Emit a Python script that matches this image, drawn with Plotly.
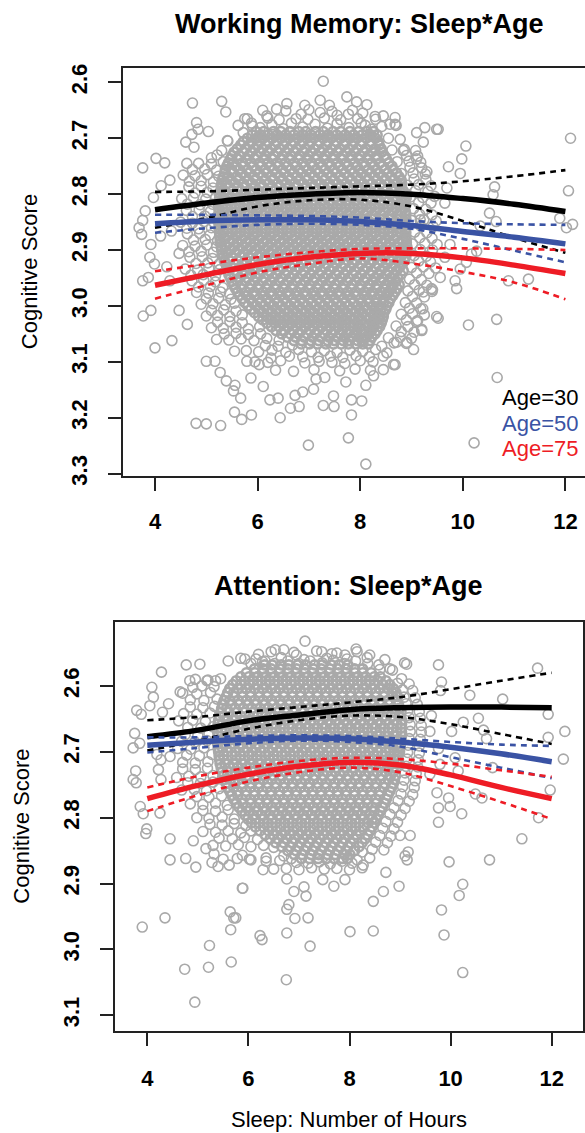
import plotly.graph_objects as go

W, H = 585, 1133
GREY = "#A9A9A9"
BLACK = "#000000"
BLUE = "#3A53A4"
RED = "#EE1C25"
FONT = "Liberation Sans"

# ---------------- model curves (sleep hours grid) ----------------
sleep_grid = [4, 5, 6, 7, 8, 9, 10, 11, 12]

wm_age30 = [2.828, 2.816, 2.806, 2.800, 2.797, 2.800, 2.808, 2.818, 2.831]
wm_age30_hi = [2.796, 2.795, 2.792, 2.789, 2.786, 2.783, 2.777, 2.768, 2.757]
wm_age30_lo = [2.860, 2.843, 2.822, 2.811, 2.810, 2.822, 2.848, 2.878, 2.905]
wm_age50 = [2.853, 2.848, 2.846, 2.846, 2.849, 2.856, 2.867, 2.877, 2.889]
wm_age50_hi = [2.837, 2.837, 2.838, 2.839, 2.842, 2.848, 2.852, 2.854, 2.855]
wm_age50_lo = [2.869, 2.861, 2.855, 2.853, 2.855, 2.862, 2.880, 2.901, 2.922]
wm_age75 = [2.963, 2.944, 2.926, 2.913, 2.906, 2.906, 2.914, 2.927, 2.942]
wm_age75_hi = [2.938, 2.925, 2.913, 2.904, 2.898, 2.897, 2.897, 2.898, 2.900]
wm_age75_lo = [2.987, 2.963, 2.940, 2.925, 2.915, 2.924, 2.939, 2.958, 2.988]

att_age30 = [2.677, 2.667, 2.653, 2.644, 2.636, 2.633, 2.632, 2.632, 2.633]
att_age30_hi = [2.652, 2.647, 2.639, 2.632, 2.625, 2.617, 2.605, 2.592, 2.580]
att_age30_lo = [2.698, 2.683, 2.665, 2.652, 2.645, 2.647, 2.658, 2.673, 2.688]
att_age50 = [2.690, 2.685, 2.681, 2.679, 2.680, 2.685, 2.693, 2.703, 2.715]
att_age50_hi = [2.678, 2.678, 2.676, 2.675, 2.676, 2.680, 2.685, 2.689, 2.691]
att_age50_lo = [2.701, 2.694, 2.687, 2.683, 2.685, 2.692, 2.708, 2.724, 2.740]
att_age75 = [2.771, 2.751, 2.734, 2.722, 2.716, 2.720, 2.735, 2.754, 2.771]
att_age75_hi = [2.754, 2.737, 2.724, 2.714, 2.709, 2.711, 2.718, 2.728, 2.738]
att_age75_lo = [2.790, 2.766, 2.745, 2.731, 2.724, 2.731, 2.752, 2.776, 2.802]

# ---------------- raw observations (estimated from picture) ----------------
# dense core: (score, [sleep hours * 100, ...])
wm_core_rows = [
    (2.688, [597, 612, 631, 645, 663, 680, 694, 713, 728, 747, 762, 780, 797, 813, 826]),
    (2.694, [589, 606, 621, 638, 655, 671, 688, 704, 721, 737, 754, 771, 787, 804, 820, 833]),
    (2.700, [580, 598, 611, 629, 646, 661, 679, 696, 710, 729, 744, 762, 780, 794, 812, 830]),
    (2.706, [572, 589, 604, 621, 637, 654, 670, 688, 703, 720, 736, 753, 771, 787, 803, 820, 835]),
    (2.712, [567, 583, 601, 616, 634, 651, 666, 684, 701, 717, 735, 750, 769, 785, 801, 820, 837]),
    (2.719, [560, 576, 594, 609, 626, 643, 660, 676, 693, 711, 727, 744, 760, 778, 794, 811, 829, 841]),
    (2.725, [554, 572, 587, 605, 620, 639, 655, 671, 690, 704, 723, 738, 756, 773, 789, 807, 823, 842]),
    (2.731, [550, 564, 583, 598, 615, 632, 649, 665, 682, 699, 716, 732, 749, 766, 782, 800, 816, 833, 847]),
    (2.737, [547, 561, 580, 595, 614, 629, 647, 663, 681, 697, 715, 730, 749, 764, 783, 798, 816, 832, 851]),
    (2.744, [543, 553, 570, 587, 604, 620, 638, 654, 672, 688, 705, 721, 739, 755, 772, 789, 806, 822, 839, 856]),
    (2.750, [540, 558, 572, 591, 606, 625, 640, 658, 674, 692, 707, 726, 741, 760, 775, 794, 808, 827, 843, 862]),
    (2.756, [537, 549, 564, 580, 597, 614, 631, 648, 664, 681, 697, 714, 731, 748, 765, 781, 798, 815, 831, 848, 864]),
    (2.762, [536, 550, 569, 584, 603, 618, 636, 652, 670, 685, 704, 719, 737, 753, 770, 787, 802, 821, 836, 854, 871]),
    (2.769, [533, 543, 560, 576, 593, 610, 627, 644, 660, 677, 694, 710, 727, 744, 761, 777, 794, 811, 828, 844, 860, 876]),
    (2.775, [531, 548, 563, 582, 596, 615, 630, 649, 663, 682, 697, 715, 731, 749, 764, 783, 798, 816, 832, 850, 865, 880]),
    (2.781, [530, 540, 556, 572, 589, 606, 622, 639, 656, 673, 689, 706, 723, 740, 756, 772, 790, 806, 823, 839, 856, 871, 881]),
    (2.787, [529, 544, 562, 576, 595, 610, 628, 643, 662, 677, 695, 710, 729, 744, 762, 777, 796, 811, 829, 845, 862, 878]),
    (2.794, [528, 535, 552, 568, 585, 601, 618, 635, 652, 668, 685, 701, 718, 735, 752, 768, 785, 801, 819, 835, 851, 868, 884]),
    (2.800, [527, 543, 558, 577, 591, 610, 625, 643, 658, 676, 691, 710, 724, 743, 758, 776, 791, 810, 825, 843, 858, 876, 889]),
    (2.806, [526, 533, 550, 566, 583, 600, 616, 633, 650, 666, 683, 699, 716, 732, 749, 766, 782, 798, 815, 831, 848, 864, 880, 890]),
    (2.812, [525, 541, 559, 574, 592, 607, 625, 641, 658, 673, 691, 706, 724, 740, 757, 772, 790, 806, 823, 839, 856, 871, 887]),
    (2.819, [524, 532, 548, 565, 581, 598, 614, 631, 647, 664, 680, 697, 713, 730, 746, 763, 779, 796, 812, 829, 845, 862, 878, 889]),
    (2.825, [524, 539, 557, 572, 590, 605, 623, 638, 656, 672, 689, 704, 722, 737, 755, 771, 788, 803, 821, 836, 854, 870, 886]),
    (2.831, [525, 532, 549, 566, 582, 599, 615, 632, 648, 665, 681, 698, 714, 731, 747, 764, 780, 797, 813, 830, 846, 863, 879, 888]),
    (2.837, [526, 542, 559, 575, 592, 608, 626, 641, 659, 674, 692, 707, 725, 741, 758, 774, 791, 807, 824, 840, 857, 873, 889]),
    (2.844, [524, 533, 548, 565, 581, 597, 614, 630, 647, 663, 680, 696, 713, 729, 746, 762, 779, 795, 812, 828, 845, 861, 878, 889]),
    (2.850, [524, 540, 556, 573, 589, 606, 621, 639, 654, 672, 687, 705, 720, 738, 753, 771, 787, 804, 819, 837, 852, 870, 886]),
    (2.856, [525, 533, 550, 567, 583, 600, 616, 633, 649, 666, 682, 699, 715, 732, 748, 765, 781, 798, 814, 831, 847, 864, 880, 888]),
    (2.862, [525, 542, 558, 576, 591, 609, 624, 642, 657, 675, 690, 708, 723, 741, 756, 774, 789, 807, 822, 840, 855, 873, 889]),
    (2.869, [526, 534, 550, 567, 583, 599, 616, 632, 649, 665, 682, 698, 715, 731, 748, 764, 781, 797, 814, 830, 847, 863, 880, 889]),
    (2.875, [526, 541, 559, 574, 592, 607, 625, 640, 658, 673, 691, 706, 724, 739, 757, 772, 790, 805, 823, 838, 856, 871, 888]),
    (2.881, [527, 536, 552, 569, 585, 602, 618, 635, 651, 668, 684, 701, 717, 734, 750, 767, 783, 800, 816, 833, 849, 866, 882, 890]),
    (2.887, [528, 545, 560, 578, 593, 611, 626, 644, 659, 677, 692, 710, 725, 743, 758, 776, 791, 809, 824, 842, 857, 875, 890]),
    (2.894, [529, 538, 554, 571, 587, 604, 620, 637, 653, 670, 686, 703, 719, 736, 752, 769, 785, 802, 818, 835, 851, 868, 884, 891]),
    (2.900, [530, 547, 562, 580, 595, 613, 628, 646, 661, 679, 694, 712, 727, 745, 760, 778, 793, 811, 826, 844, 859, 877, 890]),
    (2.906, [531, 540, 556, 573, 589, 606, 622, 639, 655, 672, 688, 705, 721, 738, 754, 771, 787, 804, 820, 837, 853, 870, 885]),
    (2.912, [533, 549, 567, 582, 600, 615, 633, 648, 666, 681, 699, 714, 732, 747, 765, 780, 798, 813, 831, 846, 864, 879, 889]),
    (2.919, [535, 545, 561, 578, 594, 611, 627, 644, 660, 677, 693, 710, 726, 743, 759, 776, 792, 809, 825, 842, 858, 874, 886]),
    (2.925, [538, 555, 570, 588, 603, 621, 636, 654, 669, 687, 702, 720, 735, 753, 768, 786, 801, 819, 834, 852, 866, 882]),
    (2.931, [540, 550, 566, 583, 599, 616, 632, 649, 665, 682, 698, 715, 731, 748, 764, 781, 797, 814, 830, 847, 862, 877]),
    (2.937, [542, 558, 576, 591, 609, 624, 642, 657, 675, 690, 708, 723, 741, 756, 774, 789, 807, 822, 840, 854, 871, 884]),
    (2.944, [544, 555, 571, 588, 604, 621, 637, 654, 670, 687, 703, 720, 736, 753, 769, 786, 802, 819, 835, 851, 866, 879]),
    (2.950, [547, 564, 579, 597, 612, 630, 645, 663, 678, 696, 711, 729, 744, 762, 777, 795, 810, 828, 842, 859, 873]),
    (2.956, [550, 561, 577, 594, 610, 627, 643, 660, 676, 693, 709, 726, 742, 759, 775, 792, 808, 825, 841, 856, 870]),
    (2.962, [553, 569, 587, 602, 620, 635, 653, 668, 686, 701, 719, 734, 752, 767, 785, 800, 818, 832, 850, 863, 876]),
    (2.969, [557, 569, 585, 602, 618, 635, 651, 668, 684, 701, 717, 734, 750, 767, 783, 800, 816, 832, 847, 861, 872]),
    (2.975, [561, 578, 593, 611, 626, 644, 659, 677, 692, 710, 725, 743, 758, 776, 791, 809, 823, 841, 854, 868]),
    (2.981, [565, 578, 594, 611, 627, 644, 660, 677, 693, 710, 726, 743, 759, 776, 792, 808, 823, 838, 852, 864]),
    (2.987, [570, 585, 603, 618, 636, 651, 669, 684, 702, 717, 735, 750, 768, 783, 801, 815, 832, 845, 859]),
    (2.994, [575, 590, 606, 623, 639, 656, 672, 689, 705, 722, 738, 755, 771, 787, 802, 817, 831, 845, 856]),
    (3.000, [581, 598, 613, 631, 646, 664, 679, 697, 712, 730, 745, 763, 777, 795, 808, 825, 838, 852]),
    (3.006, [587, 603, 620, 636, 653, 669, 686, 702, 719, 735, 752, 767, 783, 798, 813, 827, 840, 850]),
    (3.012, [594, 610, 628, 643, 661, 676, 694, 709, 727, 742, 760, 774, 791, 804, 821, 833, 846]),
    (3.019, [602, 618, 635, 651, 668, 684, 701, 717, 734, 750, 766, 781, 797, 811, 826, 838, 845]),
    (3.025, [610, 627, 642, 660, 675, 693, 708, 726, 741, 759, 772, 789, 802, 818, 830, 843]),
    (3.031, [618, 634, 651, 667, 684, 700, 717, 733, 750, 765, 780, 795, 809, 823, 835, 841]),
    (3.037, [627, 642, 660, 675, 693, 708, 726, 741, 758, 771, 788, 800, 816, 827, 838]),
    (3.044, [636, 652, 669, 685, 702, 718, 735, 750, 765, 780, 794, 808, 822, 833]),
    (3.050, [647, 664, 679, 697, 712, 730, 744, 761, 774, 790, 802, 817, 829]),
    (3.056, [658, 674, 691, 707, 723, 739, 755, 769, 783, 797, 810, 823]),
    (3.062, [671, 686, 704, 719, 737, 750, 767, 779, 795, 806, 819]),
    (3.068, [685, 701, 717, 733, 748, 763, 777, 791, 805, 816]),
]

wm_points = [
    # halo left
    (4.62, 2.745), (4.85, 2.745), (5.10, 2.746), (5.33, 2.742), (4.55, 2.766), (4.78, 2.767), (5.02, 2.765), (5.24, 2.768),
    (4.66, 2.787), (4.90, 2.786), (5.13, 2.789), (4.52, 2.808), (4.75, 2.806), (4.99, 2.809), (5.18, 2.807),
    (4.61, 2.829), (4.86, 2.828), (5.08, 2.831), (4.50, 2.850), (4.73, 2.852), (4.96, 2.849), (5.15, 2.851),
    (4.63, 2.871), (4.87, 2.870), (5.07, 2.873), (4.54, 2.892), (4.78, 2.893), (5.01, 2.891), (5.20, 2.894),
    (4.68, 2.913), (4.92, 2.912), (5.12, 2.915), (4.59, 2.934), (4.83, 2.936), (5.05, 2.933), (5.26, 2.935),
    (4.72, 2.955), (4.95, 2.954), (5.18, 2.957), (4.81, 2.976), (5.04, 2.977), (5.28, 2.975), (5.45, 2.978),
    (4.90, 2.997), (5.13, 2.996), (5.37, 2.998), (5.55, 2.995), (5.00, 3.018), (5.22, 3.017), (5.46, 3.019), (5.70, 3.016),
    (5.10, 3.039), (5.33, 3.040), (5.58, 3.038), (5.82, 3.041), (6.04, 3.037), (5.20, 3.060), (5.44, 3.061), (5.68, 3.059),
    (5.93, 3.062), (6.18, 3.058), (6.42, 3.061), (5.55, 3.081), (5.78, 3.080), (6.02, 3.082), (6.28, 3.079), (6.55, 3.083),
    (6.80, 3.078), (7.05, 3.082), (7.30, 3.080), (7.55, 3.083), (7.80, 3.079), (8.05, 3.081), (8.30, 3.078),
    (5.95, 3.100), (6.20, 3.101), (6.45, 3.098), (6.92, 3.102), (7.20, 3.099), (7.45, 3.101), (7.70, 3.103), (8.00, 3.098),
    (8.25, 3.100), (6.35, 3.115), (6.70, 3.117), (7.10, 3.114), (7.60, 3.116), (7.90, 3.113), (8.20, 3.115),
    (4.73, 2.756), (4.97, 2.755), (5.20, 2.757), (4.67, 2.777), (4.90, 2.776), (5.14, 2.778), (4.78, 2.798), (5.02, 2.797),
    (5.25, 2.799), (4.63, 2.818), (4.88, 2.819), (5.12, 2.818), (4.73, 2.840), (4.97, 2.839), (5.20, 2.841), (4.62, 2.861),
    (4.85, 2.862), (5.10, 2.860), (4.75, 2.882), (4.98, 2.881), (5.22, 2.883), (4.66, 2.903), (4.90, 2.902), (5.14, 2.904),
    (4.80, 2.924), (5.03, 2.923), (5.25, 2.925), (4.70, 2.945), (4.94, 2.944), (5.18, 2.946), (4.85, 2.966), (5.08, 2.965),
    (5.32, 2.967), (5.00, 2.987), (5.24, 2.986), (5.48, 2.988), (5.10, 3.008), (5.34, 3.007), (5.58, 3.009), (5.22, 3.029),
    (5.46, 3.028), (5.70, 3.030), (5.35, 3.050), (5.58, 3.049), (5.82, 3.051), (6.06, 3.050),
    # halo right
    (8.55, 2.700), (8.78, 2.702), (8.62, 2.721), (8.86, 2.720), (9.08, 2.722), (8.72, 2.742), (8.95, 2.741), (9.18, 2.743),
    (8.80, 2.763), (9.03, 2.762), (9.27, 2.764), (8.92, 2.784), (9.14, 2.783), (9.38, 2.785), (8.98, 2.805), (9.22, 2.806),
    (9.45, 2.804), (9.04, 2.826), (9.28, 2.827), (9.00, 2.847), (9.24, 2.846), (9.48, 2.848), (9.06, 2.868), (9.30, 2.869),
    (9.02, 2.889), (9.26, 2.888), (9.50, 2.890), (9.05, 2.910), (9.29, 2.911), (9.00, 2.931), (9.23, 2.930), (9.47, 2.932),
    (8.96, 2.952), (9.19, 2.953), (8.93, 2.973), (9.15, 2.972), (9.40, 2.974), (8.88, 2.994), (9.10, 2.995), (8.80, 3.015),
    (9.02, 3.014), (9.25, 3.016), (8.70, 3.036), (8.93, 3.037), (8.55, 3.057), (8.78, 3.056), (9.00, 3.058),
    (8.90, 2.731), (9.12, 2.732), (8.97, 2.752), (9.20, 2.753), (9.05, 2.773), (9.28, 2.774), (9.08, 2.794), (9.32, 2.795),
    (9.14, 2.815), (9.38, 2.816), (9.16, 2.836), (9.40, 2.837), (9.18, 2.857), (9.42, 2.858), (9.16, 2.878), (9.40, 2.879),
    (9.17, 2.899), (9.41, 2.900), (9.14, 2.920), (9.37, 2.921), (9.10, 2.941), (9.34, 2.942), (9.06, 2.962), (9.30, 2.963),
    (9.02, 2.983), (9.25, 2.984), (8.96, 3.004), (9.18, 3.005), (8.90, 3.025), (9.12, 3.026), (8.80, 3.046), (9.05, 3.047),
    (8.66, 3.066), (8.90, 3.067),
    # halo top / bottom edges
    (6.10, 2.650), (6.55, 2.651), (7.00, 2.649), (7.45, 2.652), (7.85, 2.650), (5.80, 2.665), (6.20, 2.664), (6.42, 2.667),
    (6.75, 2.665), (6.98, 2.666), (7.30, 2.664), (7.62, 2.667), (7.95, 2.665), (8.30, 2.666), (5.62, 2.677), (5.90, 2.678),
    (8.10, 2.677), (8.42, 2.679), (8.70, 2.677), (5.30, 2.722), (5.10, 2.735), (5.42, 2.705),
    (6.05, 2.681), (6.28, 2.676), (6.50, 2.683), (6.66, 2.673), (6.88, 2.680), (7.12, 2.675), (7.36, 2.682), (7.55, 2.674),
    (7.78, 2.681), (8.02, 2.673), (8.22, 2.684), (6.18, 2.660), (6.85, 2.657), (7.55, 2.659), (8.05, 2.655),
    (6.15, 3.071), (6.40, 3.072), (6.62, 3.090), (6.68, 3.070), (6.88, 3.091), (7.18, 3.092), (7.42, 3.090), (7.66, 3.092),
    (7.92, 3.089), (8.18, 3.091), (8.42, 3.072), (8.45, 3.090),
    # outliers
    (7.28, 2.598), (7.74, 2.626), (7.93, 2.635), (8.13, 2.640), (7.22, 2.632), (7.40, 2.641), (6.92, 2.641), (6.57, 2.638),
    (6.37, 2.648), (5.75, 2.665), (5.88, 2.673), (7.22, 2.654), (7.77, 2.657), (8.29, 2.661), (8.68, 2.663), (8.58, 2.675),
    (9.26, 2.681), (9.10, 2.690), (9.49, 2.684), (9.23, 2.707), (8.84, 2.722), (9.10, 2.737), (9.30, 2.760),
    (4.73, 2.637), (5.30, 2.634), (5.38, 2.653), (5.72, 2.690), (4.81, 2.672), (4.84, 2.684), (5.04, 2.688), (4.72, 2.693),
    (4.60, 2.707), (4.76, 2.716), (5.41, 2.704), (5.21, 2.730), (4.02, 2.736), (4.19, 2.744), (3.76, 2.753),
    (4.29, 2.775), (4.12, 2.785), (3.97, 2.806), (3.81, 2.830), (3.76, 2.847), (3.69, 2.860), (3.74, 2.872), (3.92, 2.890),
    (4.11, 2.875), (4.32, 2.866), (4.47, 2.906), (3.90, 2.913), (3.99, 2.925), (4.23, 2.930), (3.76, 2.955), (3.87, 2.949),
    (4.29, 2.955), (3.77, 3.018), (3.92, 3.008), (4.47, 3.008), (4.63, 3.033), (4.00, 3.075), (4.33, 3.062),
    (5.00, 3.099), (5.17, 3.099), (5.27, 3.119), (5.39, 3.134), (5.56, 3.142), (5.53, 3.152), (5.67, 3.165), (5.87, 3.129),
    (6.11, 3.144), (6.24, 3.168), (6.40, 3.165), (6.73, 3.160), (6.64, 3.183), (5.79, 3.099), (6.03, 3.105), (6.26, 3.093),
    (4.80, 3.210), (5.00, 3.211), (5.28, 3.214), (5.55, 3.190), (5.69, 3.203), (5.88, 3.195), (6.44, 3.200),
    (6.99, 3.249), (7.77, 3.236), (8.11, 3.283), (6.81, 3.180), (6.88, 3.154), (7.09, 3.149), (7.28, 3.178), (7.49, 3.180),
    (7.48, 3.161), (7.83, 3.195), (7.83, 3.168), (8.03, 3.170), (7.72, 3.136), (8.11, 3.142), (7.31, 3.128), (7.14, 3.131),
    (8.26, 3.125), (8.45, 3.114), (8.65, 3.105), (8.52, 3.084), (8.71, 3.065), (8.91, 3.065), (9.20, 3.042), (9.49, 3.019),
    (9.22, 3.005), (9.41, 2.971), (9.10, 3.028),
    (12.10, 2.700), (12.06, 2.794), (11.89, 2.843), (12.14, 2.854), (12.02, 2.860), (11.28, 2.952), (10.89, 2.955),
    (9.52, 2.684), (10.06, 2.714), (9.98, 2.737), (9.95, 2.763), (9.72, 2.751), (10.62, 2.787), (10.59, 2.801),
    (10.52, 2.834), (10.65, 2.849), (10.27, 2.902), (10.07, 2.922), (9.95, 2.934), (9.88, 2.969), (9.75, 2.890),
    (9.56, 2.949), (9.39, 2.969), (9.17, 2.846), (9.69, 2.789), (9.65, 2.816), (10.34, 2.857), (10.17, 2.907),
    (9.85, 2.955), (9.65, 2.913), (9.23, 2.975), (8.45, 2.660), (8.68, 2.675),
    (9.52, 3.022), (10.11, 3.034), (10.66, 3.024), (10.67, 3.128), (10.22, 3.245), (9.20, 3.044), (9.04, 3.078), (8.68, 3.105),
]

att_core_rows = [
    (2.568, [632, 647, 665, 680, 698, 713, 731, 746, 764, 779, 797]),
    (2.574, [612, 629, 645, 662, 678, 695, 711, 728, 744, 761, 777, 794, 810, 826]),
    (2.580, [596, 613, 628, 646, 661, 679, 694, 712, 727, 745, 760, 778, 793, 811, 826, 843]),
    (2.586, [585, 601, 618, 634, 651, 667, 684, 700, 717, 733, 750, 766, 783, 799, 816, 832, 849, 861]),
    (2.592, [576, 592, 610, 625, 643, 658, 676, 691, 709, 724, 742, 757, 775, 790, 808, 823, 841, 856, 872]),
    (2.598, [569, 585, 602, 618, 635, 651, 668, 684, 701, 717, 734, 750, 767, 783, 800, 816, 833, 849, 866, 880]),
    (2.604, [563, 580, 595, 613, 628, 646, 661, 679, 694, 712, 727, 745, 760, 778, 793, 811, 826, 844, 859, 877, 887]),
    (2.610, [559, 571, 588, 604, 621, 637, 654, 670, 687, 703, 720, 736, 753, 769, 786, 802, 819, 835, 852, 868, 884, 892]),
    (2.616, [556, 571, 589, 604, 622, 637, 655, 670, 688, 703, 721, 736, 754, 769, 787, 802, 820, 835, 853, 868, 886, 895]),
    (2.622, [552, 563, 580, 596, 613, 629, 646, 662, 679, 695, 712, 728, 745, 761, 778, 794, 811, 827, 844, 860, 877, 893]),
    (2.628, [549, 567, 582, 600, 615, 633, 648, 666, 681, 699, 714, 732, 747, 765, 780, 798, 813, 831, 846, 864, 879, 897]),
    (2.634, [547, 557, 574, 590, 607, 623, 640, 656, 673, 689, 706, 722, 739, 755, 772, 788, 805, 821, 838, 854, 871, 887, 899]),
    (2.640, [545, 560, 578, 593, 611, 626, 644, 659, 677, 692, 710, 725, 743, 758, 776, 791, 809, 824, 842, 857, 875, 890, 902]),
    (2.646, [543, 552, 569, 585, 602, 618, 635, 651, 668, 684, 701, 717, 734, 750, 767, 783, 800, 816, 833, 849, 866, 882, 898]),
    (2.652, [541, 559, 574, 592, 607, 625, 640, 658, 673, 691, 706, 724, 739, 757, 772, 790, 805, 823, 838, 856, 871, 889, 903]),
    (2.658, [540, 548, 565, 581, 598, 614, 631, 647, 664, 680, 697, 713, 730, 746, 763, 779, 796, 812, 829, 845, 862, 878, 894, 903]),
    (2.664, [539, 554, 572, 587, 605, 620, 638, 653, 671, 686, 704, 719, 737, 752, 770, 785, 803, 818, 836, 851, 869, 884, 902]),
    (2.670, [539, 547, 564, 580, 597, 613, 630, 646, 663, 679, 696, 712, 729, 745, 762, 778, 795, 811, 828, 844, 861, 877, 893, 903]),
    (2.676, [540, 558, 573, 591, 606, 624, 639, 657, 672, 690, 705, 723, 738, 756, 771, 789, 804, 822, 837, 855, 870, 888, 903]),
    (2.682, [539, 547, 564, 580, 597, 613, 630, 646, 663, 679, 696, 712, 729, 745, 762, 778, 795, 811, 828, 844, 861, 877, 893, 902]),
    (2.688, [539, 554, 572, 587, 605, 620, 638, 653, 671, 686, 704, 719, 737, 752, 770, 785, 803, 818, 836, 851, 869, 884, 901]),
    (2.694, [540, 549, 565, 582, 598, 615, 631, 648, 664, 681, 697, 714, 730, 747, 763, 780, 796, 813, 829, 846, 862, 879, 895, 900]),
    (2.700, [541, 559, 574, 592, 607, 625, 640, 658, 673, 691, 706, 724, 739, 757, 772, 790, 805, 823, 838, 856, 871, 889, 899]),
    (2.706, [542, 551, 567, 584, 600, 617, 633, 650, 666, 683, 699, 716, 732, 749, 765, 782, 798, 815, 831, 848, 864, 881, 894]),
    (2.712, [543, 558, 576, 591, 609, 624, 642, 657, 675, 690, 708, 723, 741, 756, 774, 789, 807, 822, 840, 855, 873, 888, 897]),
    (2.718, [544, 554, 570, 587, 603, 620, 636, 653, 669, 686, 702, 719, 735, 752, 768, 785, 801, 818, 834, 851, 867, 884, 895]),
    (2.724, [546, 563, 578, 596, 611, 629, 644, 662, 677, 695, 710, 728, 743, 761, 776, 794, 809, 827, 842, 860, 875, 893]),
    (2.730, [548, 558, 574, 591, 607, 624, 640, 657, 673, 690, 706, 723, 739, 756, 772, 789, 805, 822, 838, 855, 871, 887]),
    (2.736, [551, 566, 584, 599, 617, 632, 650, 665, 683, 698, 716, 731, 749, 764, 782, 797, 815, 830, 848, 863, 881, 891]),
    (2.742, [553, 564, 580, 597, 613, 630, 646, 663, 679, 696, 712, 729, 745, 762, 778, 795, 811, 828, 844, 861, 877, 889]),
    (2.748, [556, 573, 588, 606, 621, 639, 654, 672, 687, 705, 720, 738, 753, 771, 786, 804, 819, 837, 852, 870, 886]),
    (2.754, [559, 571, 587, 604, 620, 637, 653, 670, 686, 703, 719, 736, 752, 769, 785, 802, 818, 835, 851, 868, 883]),
    (2.760, [563, 578, 596, 611, 629, 644, 662, 677, 695, 710, 728, 743, 761, 776, 794, 809, 827, 842, 860, 880]),
    (2.766, [567, 579, 595, 612, 628, 645, 661, 678, 694, 711, 727, 744, 760, 777, 793, 810, 826, 843, 859, 876]),
    (2.772, [571, 588, 603, 621, 636, 654, 669, 687, 702, 720, 735, 753, 768, 786, 801, 819, 834, 852, 873]),
    (2.778, [576, 589, 605, 622, 638, 655, 671, 688, 704, 721, 737, 754, 770, 787, 803, 820, 836, 853, 869]),
    (2.784, [581, 596, 614, 629, 647, 662, 680, 695, 713, 728, 746, 761, 779, 794, 812, 827, 845, 865]),
    (2.790, [587, 601, 618, 634, 651, 667, 684, 700, 717, 733, 750, 766, 783, 799, 816, 832, 849, 861]),
    (2.796, [593, 610, 625, 643, 658, 676, 691, 709, 724, 742, 757, 775, 790, 808, 823, 841, 857]),
    (2.802, [599, 614, 630, 647, 663, 680, 696, 713, 729, 746, 762, 779, 795, 812, 828, 845, 853]),
    (2.808, [606, 621, 639, 654, 672, 687, 705, 720, 738, 753, 771, 786, 804, 819, 837, 849]),
    (2.814, [614, 630, 647, 663, 680, 696, 713, 729, 746, 762, 779, 795, 812, 828, 845]),
    (2.820, [623, 640, 655, 673, 688, 706, 721, 739, 754, 772, 787, 805, 820, 841]),
    (2.826, [633, 649, 666, 682, 699, 715, 732, 748, 765, 781, 798, 814, 836]),
    (2.832, [643, 658, 676, 691, 709, 724, 742, 757, 775, 790, 808, 831]),
    (2.838, [654, 670, 687, 703, 720, 736, 753, 769, 786, 802, 825]),
    (2.844, [666, 683, 698, 716, 731, 749, 764, 782, 797, 819]),
    (2.850, [678, 694, 711, 727, 744, 760, 777, 793, 810]),
    (2.856, [691, 706, 724, 739, 757, 772, 790, 801]),
    (2.862, [705, 721, 738, 754, 770, 786, 796]),
]

att_points = [
    # halo left
    (4.95, 2.590), (5.20, 2.591), (5.45, 2.589), (4.70, 2.611), (4.98, 2.612), (5.25, 2.610), (4.85, 2.632), (5.10, 2.633),
    (5.33, 2.631), (4.62, 2.653), (4.90, 2.652), (5.15, 2.654), (4.75, 2.674), (5.00, 2.675), (5.22, 2.673), (4.60, 2.695),
    (4.86, 2.696), (5.12, 2.694), (4.70, 2.716), (4.95, 2.717), (5.20, 2.715), (4.82, 2.737), (5.06, 2.738), (5.30, 2.736),
    (4.68, 2.758), (4.93, 2.757), (5.17, 2.759), (5.42, 2.756), (4.85, 2.779), (5.10, 2.780), (5.35, 2.778), (5.58, 2.781),
    (4.98, 2.800), (5.22, 2.801), (5.48, 2.799), (5.72, 2.802), (5.10, 2.821), (5.35, 2.822), (5.60, 2.820), (5.85, 2.823),
    (6.05, 2.820), (5.30, 2.842), (5.55, 2.843), (5.80, 2.841), (6.05, 2.844), (6.30, 2.842), (6.50, 2.845),
    (5.50, 2.863), (5.78, 2.862), (6.05, 2.864), (6.35, 2.861), (6.62, 2.865), (6.85, 2.862), (8.15, 2.864), (8.40, 2.861),
    (6.50, 2.878), (6.75, 2.877), (7.00, 2.879), (7.25, 2.876), (7.50, 2.878), (7.75, 2.877), (8.00, 2.879), (8.25, 2.876),
    (5.08, 2.600), (5.32, 2.601), (4.85, 2.621), (5.12, 2.622), (5.38, 2.620), (4.72, 2.642), (4.98, 2.643), (5.24, 2.641),
    (4.80, 2.663), (5.06, 2.664), (5.30, 2.662), (4.68, 2.684), (4.94, 2.685), (5.18, 2.683), (4.78, 2.705), (5.03, 2.706),
    (5.28, 2.704), (4.70, 2.726), (4.95, 2.727), (5.19, 2.725), (4.80, 2.747), (5.05, 2.748), (5.30, 2.746), (4.98, 2.768),
    (5.22, 2.769), (5.47, 2.767), (5.10, 2.789), (5.35, 2.790), (5.60, 2.788), (5.24, 2.810), (5.48, 2.811), (5.72, 2.809),
    (5.95, 2.812), (5.42, 2.831), (5.68, 2.832), (5.92, 2.830), (6.18, 2.833),
    # halo right
    (8.60, 2.575), (8.85, 2.576), (8.95, 2.596), (9.18, 2.597), (9.08, 2.617), (9.30, 2.618), (9.15, 2.638), (9.38, 2.639),
    (9.20, 2.659), (9.42, 2.660), (9.18, 2.680), (9.40, 2.681), (9.15, 2.701), (9.38, 2.702), (9.12, 2.722), (9.35, 2.723),
    (9.08, 2.743), (9.30, 2.744), (9.02, 2.764), (9.25, 2.765), (8.88, 2.785), (9.10, 2.786), (8.72, 2.806), (8.95, 2.807),
    (8.60, 2.827), (8.82, 2.828), (8.45, 2.848), (8.68, 2.849),
    (9.05, 2.606), (9.25, 2.607), (9.12, 2.627), (9.34, 2.628), (9.18, 2.648), (9.40, 2.649), (9.20, 2.669), (9.42, 2.670),
    (9.16, 2.690), (9.38, 2.691), (9.14, 2.711), (9.36, 2.712), (9.10, 2.732), (9.32, 2.733), (9.05, 2.753), (9.28, 2.754),
    (8.96, 2.774), (9.18, 2.775), (8.80, 2.795), (9.02, 2.796), (8.66, 2.816), (8.88, 2.817), (8.52, 2.837), (8.75, 2.838),
    # halo top / bottom edges
    (6.45, 2.548), (6.90, 2.549), (7.35, 2.547), (7.75, 2.550), (8.15, 2.548), (5.85, 2.558), (6.15, 2.559), (6.65, 2.557),
    (7.10, 2.560), (7.55, 2.558), (7.95, 2.559), (8.35, 2.557), (8.70, 2.560),
    (6.05, 2.566), (6.28, 2.563), (6.52, 2.566), (6.78, 2.562), (7.00, 2.566), (7.22, 2.562), (7.46, 2.565), (7.68, 2.561),
    (7.90, 2.566), (8.12, 2.562), (8.36, 2.566), (8.58, 2.568), (6.20, 2.552), (6.95, 2.553), (7.65, 2.551), (8.40, 2.553),
    (6.95, 2.868), (7.18, 2.869), (7.40, 2.867), (7.62, 2.870), (7.85, 2.866), (8.05, 2.869), (6.70, 2.858), (8.25, 2.852),
    # outliers
    (3.90, 2.966), (4.35, 2.952), (4.74, 3.030), (4.94, 3.080), (5.21, 3.027), (5.23, 2.994), (5.66, 3.019), (5.65, 2.970),
    (5.64, 2.943), (5.75, 2.952), (5.88, 2.907), (6.23, 2.979), (6.27, 2.985), (6.76, 2.975), (6.75, 3.046), (6.76, 2.939),
    (6.80, 2.932), (6.92, 2.953), (6.90, 2.912), (6.76, 2.893),
    (4.45, 2.864), (4.76, 2.862), (4.96, 2.875), (4.91, 2.835), (5.16, 2.847), (5.32, 2.855), (5.40, 2.874), (5.62, 2.872),
    (5.28, 2.868), (4.45, 2.832), (3.97, 2.824), (6.29, 2.879), (6.35, 2.866), (6.02, 2.863), (5.88, 2.857),
    (11.41, 2.832), (9.97, 2.867), (10.77, 2.864), (10.24, 2.901), (10.17, 2.918), (9.82, 2.940), (9.87, 2.978),
    (10.24, 3.035), (8.98, 2.904), (9.16, 2.852), (9.10, 2.858), (8.72, 2.883), (8.67, 2.912), (9.14, 2.864), (9.20, 2.827),
    (9.00, 2.827), (5.89, 2.907), (5.71, 2.952), (7.22, 2.995), (8.01, 2.973), (8.47, 2.972), (7.18, 2.952), (7.14, 2.919),
    (7.10, 2.905), (7.47, 2.894), (7.69, 2.904), (7.91, 2.894), (8.47, 2.927), (8.27, 2.872),
    (7.12, 2.532), (8.13, 2.544), (9.09, 2.565), (6.53, 2.545), (6.70, 2.545), (7.45, 2.548), (5.93, 2.559), (6.33, 2.562),
    (7.91, 2.553), (8.80, 2.574), (9.03, 2.589),
    (4.28, 2.579), (4.77, 2.568), (5.04, 2.567), (5.60, 2.562), (4.09, 2.602), (4.12, 2.617), (4.05, 2.630), (4.42, 2.627),
    (4.30, 2.640), (3.79, 2.637), (3.88, 2.643), (3.75, 2.672), (3.72, 2.694), (3.85, 2.687), (4.19, 2.704), (4.27, 2.712),
    (4.45, 2.707), (3.77, 2.729), (3.72, 2.742), (3.78, 2.747), (4.22, 2.727), (4.27, 2.742), (4.58, 2.739), (3.86, 2.783),
    (3.92, 2.794), (4.25, 2.793), (3.99, 2.817), (4.65, 2.609), (4.84, 2.592), (4.90, 2.602), (5.18, 2.592), (5.35, 2.592),
    (11.72, 2.573), (9.76, 2.568), (9.13, 2.567), (9.82, 2.594), (9.80, 2.607), (10.38, 2.614), (11.03, 2.620),
    (12.26, 2.669), (11.93, 2.643), (11.93, 2.678), (12.23, 2.711), (11.97, 2.758), (11.74, 2.800), (10.55, 2.649),
    (10.65, 2.667), (10.71, 2.680), (10.83, 2.724), (10.62, 2.770), (10.49, 2.764), (10.22, 2.794), (9.99, 2.783),
    (9.96, 2.770), (9.76, 2.785), (9.73, 2.762), (9.76, 2.807), (10.15, 2.729), (10.09, 2.709), (10.25, 2.655),
    (10.02, 2.669), (9.59, 2.669), (9.62, 2.645), (9.76, 2.695), (9.79, 2.719), (9.59, 2.734),
]

xticks = [4, 6, 8, 10, 12]
wm_yticks = [2.6, 2.7, 2.8, 2.9, 3.0, 3.1, 3.2, 3.3]
att_yticks = [2.6, 2.7, 2.8, 2.9, 3.0, 3.1]
legend_labels = ["Age=30", "Age=50", "Age=75"]


def core_xy(rows):
    xs, ys = [], []
    for yv, xlist in rows:
        for xv in xlist:
            xs.append(xv / 100.0)
            ys.append(yv)
    return xs, ys


fig = go.Figure()

panels = [
    ("x", "y", wm_core_rows, wm_points,
     [(wm_age30, wm_age30_hi, wm_age30_lo, BLACK),
      (wm_age50, wm_age50_hi, wm_age50_lo, BLUE),
      (wm_age75, wm_age75_hi, wm_age75_lo, RED)]),
    ("x2", "y2", att_core_rows, att_points,
     [(att_age30, att_age30_hi, att_age30_lo, BLACK),
      (att_age50, att_age50_hi, att_age50_lo, BLUE),
      (att_age75, att_age75_hi, att_age75_lo, RED)]),
]

for xa, ya, rows, pts, curves in panels:
    cx, cy = core_xy(rows)
    # dense, overlapping observations in the middle of the cloud
    fig.add_trace(go.Scatter(
        x=cx, y=cy, mode="markers", xaxis=xa, yaxis=ya, showlegend=False,
        marker=dict(symbol="circle-open", size=9, color=GREY, line=dict(width=2.6, color=GREY)),
        hoverinfo="skip"))
    fig.add_trace(go.Scatter(
        x=[p[0] for p in pts], y=[p[1] for p in pts], mode="markers", xaxis=xa, yaxis=ya, showlegend=False,
        marker=dict(symbol="circle-open", size=10, color=GREY, line=dict(width=1.6, color=GREY)),
        hoverinfo="skip"))
    for mid, hi, lo, col in curves:
        for band in (hi, lo):
            fig.add_trace(go.Scatter(
                x=sleep_grid, y=band, mode="lines", xaxis=xa, yaxis=ya, showlegend=False,
                line=dict(color=col, width=2.6, dash="6px,5px", shape="spline")))
        fig.add_trace(go.Scatter(
            x=sleep_grid, y=mid, mode="lines", xaxis=xa, yaxis=ya, showlegend=False,
            line=dict(color=col, width=5.5, shape="spline")))


def px_x(p):
    return p / W


def px_y(p):
    return 1 - p / H


axis_common = dict(
    showgrid=False, zeroline=False, showline=True, linewidth=2, linecolor="#222222",
    ticks="outside", ticklen=13, tickwidth=2, tickcolor="#222222",
    tickfont=dict(family=FONT, size=22, color="#000000", weight="bold"),
)

fig.update_layout(
    width=W, height=H, margin=dict(l=0, r=0, t=0, b=0),
    paper_bgcolor="white", plot_bgcolor="white", showlegend=False,
    xaxis=dict(domain=[px_x(122.7), 1.0], range=[3.3704, 12.382], anchor="y",
               tickvals=xticks, ticktext=[str(v) for v in xticks], mirror=True,
               ticklabelstandoff=12, **axis_common),
    yaxis=dict(domain=[px_y(478), px_y(65)], range=[3.3044, 2.5747], anchor="x",
               tickvals=wm_yticks, ticktext=[f"{v:.1f}" for v in wm_yticks],
               tickangle=-90, mirror=False, ticklabelstandoff=12, **axis_common),
    xaxis2=dict(domain=[px_x(115), px_x(582.7)], range=[3.361, 12.613], anchor="y2",
                tickvals=xticks, ticktext=[str(v) for v in xticks], mirror=True,
                ticklabelstandoff=13, **axis_common),
    yaxis2=dict(domain=[px_y(1040), px_y(626)], range=[3.124, 2.5033], anchor="x2",
                tickvals=att_yticks, ticktext=[f"{v:.1f}" for v in att_yticks],
                tickangle=-90, mirror=True, ticklabelstandoff=12, **axis_common),
)

ann = []
ann.append(dict(text="Working Memory: Sleep*Age", x=px_x(359.7), y=px_y(20), xref="paper", yref="paper",
                xanchor="center", yanchor="middle", showarrow=False,
                font=dict(family=FONT, size=27, color="#000000", weight="bold")))
ann.append(dict(text="Attention: Sleep*Age", x=px_x(348.9), y=px_y(589), xref="paper", yref="paper",
                xanchor="center", yanchor="middle", showarrow=False,
                font=dict(family=FONT, size=27, color="#000000", weight="bold")))
ann.append(dict(text="Cognitive Score", x=px_x(29), y=px_y(271.5), xref="paper", yref="paper",
                xanchor="center", yanchor="middle", showarrow=False, textangle=-90,
                font=dict(family=FONT, size=22, color="#000000")))
ann.append(dict(text="Cognitive Score", x=px_x(22), y=px_y(833), xref="paper", yref="paper",
                xanchor="center", yanchor="middle", showarrow=False, textangle=-90,
                font=dict(family=FONT, size=22, color="#000000")))
ann.append(dict(text="Sleep: Number of Hours", x=px_x(348.9), y=px_y(1129), xref="paper", yref="paper",
                xanchor="center", yanchor="middle", showarrow=False,
                font=dict(family=FONT, size=22, color="#000000")))
for lab, col, yy in zip(legend_labels, [BLACK, BLUE, RED], [398, 424.5, 450]):
    ann.append(dict(text=lab, x=px_x(580), y=px_y(yy), xref="paper", yref="paper",
                    xanchor="right", yanchor="middle", showarrow=False,
                    font=dict(family=FONT, size=22, color=col)))
fig.update_layout(annotations=ann)

fig.write_html("out.html", config={"displayModeBar": False},
               post_script="document.body.style.margin='0';document.body.style.padding='0';")
